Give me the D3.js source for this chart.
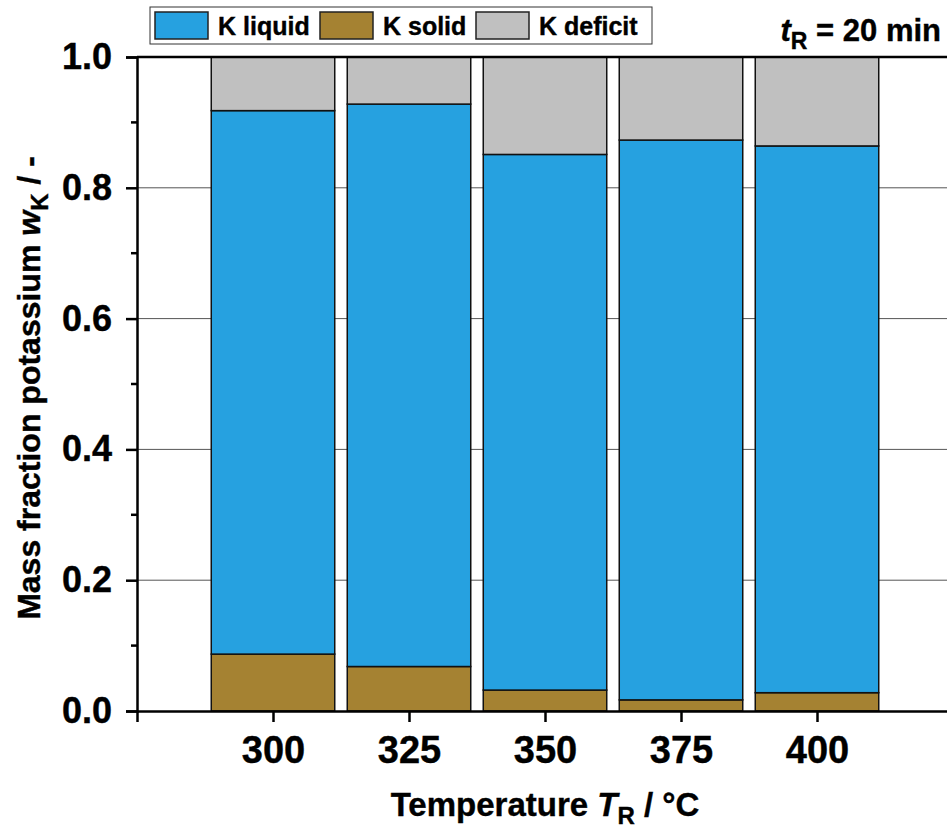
<!DOCTYPE html>
<html>
<head>
<meta charset="utf-8">
<script src="https://cdn.jsdelivr.net/npm/d3@7"></script>
<style>
  body { margin: 0; background: #fff; }
  svg { display: block; font-family: "Liberation Sans", Arial, sans-serif; font-weight: bold; }
  text { stroke: #000; stroke-width: 0.4px; }
</style>
</head>
<body>
<svg id="chart"></svg>
<script>
// data
const temperatures = [300, 325, 350, 375, 400];
const kLiquid = [0.831, 0.860, 0.819, 0.856, 0.836];
const kSolid = [0.087, 0.068, 0.032, 0.017, 0.028];
const kDeficit = [0.082, 0.072, 0.149, 0.127, 0.136];
const seriesNames = ["K liquid", "K solid", "K deficit"];
const seriesColors = ["#26a1e0", "#a58232", "#c0c0c0"];
const yTicks = [0, 0.2, 0.4, 0.6, 0.8, 1.0];
const xTicks = [275, 300, 325, 350, 375, 400, 425];

const width = 947;
const height = 832;
const marginTop = 57;
const marginBottom = 120;
const marginLeft = 137;
const barWidth = 22.7; // in °C units

const rows = temperatures.map((t, i) => ({
  t: t, "K solid": kSolid[i], "K liquid": kLiquid[i], "K deficit": kDeficit[i]
}));

// stack order bottom to top: solid, liquid, deficit
const stack = d3.stack().keys(["K solid", "K liquid", "K deficit"]);
const layers = stack(rows);

const x = d3.scaleLinear()
  .domain([275, 425])
  .range([marginLeft, marginLeft + 816]);

const y = d3.scaleLinear()
  .domain([0, 1])
  .range([height - marginBottom - 1, marginTop]);

const color = d3.scaleOrdinal().domain(seriesNames).range(seriesColors);

const svg = d3.select("#chart")
  .attr("width", width)
  .attr("height", height);

// gridlines
svg.append("g")
  .selectAll("line")
  .data(yTicks.filter(d => d > 0 && d < 1))
  .join("line")
  .attr("x1", marginLeft)
  .attr("x2", width)
  .attr("y1", d => y(d))
  .attr("y2", d => y(d))
  .attr("stroke", "#555")
  .attr("stroke-width", 1);

// bars
svg.append("g")
  .selectAll("g")
  .data(layers)
  .join("g")
  .attr("fill", d => color(d.key))
  .selectAll("rect")
  .data(d => d)
  .join("rect")
  .attr("x", d => x(d.data.t - barWidth / 2))
  .attr("width", d => x(d.data.t + barWidth / 2) - x(d.data.t - barWidth / 2))
  .attr("y", d => y(d[1]))
  .attr("height", d => y(d[0]) - y(d[1]))
  .attr("stroke", "#111")
  .attr("stroke-width", 1.5);

// top frame line
svg.append("line")
  .attr("x1", marginLeft)
  .attr("x2", width)
  .attr("y1", y(1))
  .attr("y2", y(1))
  .attr("stroke", "#000")
  .attr("stroke-width", 2.5);

// y axis
const yAxis = svg.append("g")
  .attr("transform", `translate(${marginLeft},0)`)
  .call(d3.axisLeft(y).tickValues(yTicks).tickFormat(d3.format(".1f")).tickSize(11).tickPadding(14))
  .call(g => g.select(".domain").attr("stroke-width", 2.5))
  .call(g => g.selectAll(".tick line").attr("stroke-width", 2.5))
  .call(g => g.selectAll(".tick text")
    .attr("font-size", 36)
    .attr("font-weight", "bold")
    .attr("font-family", "Liberation Sans, Arial, sans-serif")
    .attr("fill", "#000"));

yAxis.selectAll(".minor")
  .data(d3.range(0.1, 1, 0.2))
  .join("line")
  .attr("class", "minor")
  .attr("x1", -6)
  .attr("x2", 0)
  .attr("y1", d => y(d))
  .attr("y2", d => y(d))
  .attr("stroke", "#000")
  .attr("stroke-width", 2.5);

// x axis
svg.append("g")
  .attr("transform", `translate(0,${y(0)})`)
  .call(d3.axisBottom(x).tickValues(xTicks)
    .tickFormat(d => temperatures.includes(d) ? d : "")
    .tickSize(11).tickPadding(14).tickSizeOuter(0))
  .call(g => g.select(".domain").attr("stroke-width", 2.5))
  .call(g => g.selectAll(".tick line").attr("stroke-width", 2.5))
  .call(g => g.selectAll(".tick text")
    .attr("font-size", 38)
    .attr("font-weight", "bold")
    .attr("font-family", "Liberation Sans, Arial, sans-serif")
    .attr("fill", "#000"));

// axis titles
const xTitle = svg.append("text")
  .attr("x", 545)
  .attr("y", 816)
  .attr("text-anchor", "middle")
  .attr("font-size", 33);
xTitle.append("tspan").text("Temperature ");
xTitle.append("tspan").attr("font-style", "italic").text("T");
xTitle.append("tspan").attr("font-size", 24).attr("dy", 8).text("R");
xTitle.append("tspan").attr("dy", -8).text(" / °C");

const yTitle = svg.append("text")
  .attr("transform", `translate(40,${(y(0) + y(1)) / 2 + 4}) rotate(-90)`)
  .attr("text-anchor", "middle")
  .attr("font-size", 32);
yTitle.append("tspan").text("Mass fraction potassium ");
yTitle.append("tspan").attr("font-style", "italic").text("w");
yTitle.append("tspan").attr("font-size", 24).attr("dy", 8).text("K");
yTitle.append("tspan").attr("dy", -8).text(" / -");

// legend
const legend = svg.append("g").attr("transform", "translate(150,7)");
legend.append("rect")
  .attr("width", 502)
  .attr("height", 37)
  .attr("fill", "#fff")
  .attr("stroke", "#333")
  .attr("stroke-width", 1);

const legendX = [5, 170, 326];
const items = legend.selectAll("g.item")
  .data(seriesNames)
  .join("g")
  .attr("class", "item")
  .attr("transform", (d, i) => `translate(${legendX[i]},5)`);
items.append("rect")
  .attr("width", 53)
  .attr("height", 27)
  .attr("fill", d => color(d))
  .attr("stroke", "#222")
  .attr("stroke-width", 1.5);
items.append("text")
  .attr("x", 63)
  .attr("y", 23)
  .attr("font-size", 25)
  .text(d => d);

// annotation
const note = svg.append("text")
  .attr("x", 941)
  .attr("y", 41)
  .attr("text-anchor", "end")
  .attr("font-size", 31);
note.append("tspan").attr("font-style", "italic").text("t");
note.append("tspan").attr("font-size", 23).attr("dy", 8).text("R");
note.append("tspan").attr("dy", -8).text(" = 20 min");
</script>
</body>
</html>
